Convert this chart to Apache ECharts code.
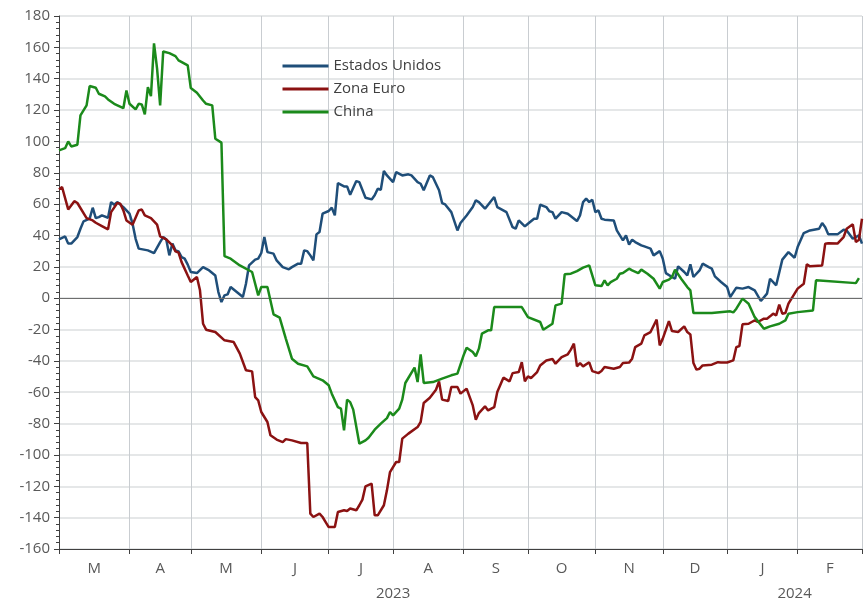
<!DOCTYPE html>
<html>
<head>
<meta charset="utf-8">
<script src="https://cdn.jsdelivr.net/npm/echarts@6/dist/echarts.min.js"></script>
<style>
  html, body { margin: 0; padding: 0; background: #fff; }
  #chart { width: 867px; height: 603px; }
</style>
</head>
<body>
<div id="chart"></div>
<script>
// x positions are business-day indices counted from 1 March 2023
const monthStarts = [0, 23, 43, 66, 88, 109, 132, 153, 175, 197, 218, 241, 262];
const monthLabels = ['M', 'A', 'M', 'J', 'J', 'A', 'S', 'O', 'N', 'D', 'J', 'F'];
const yearLabels = ['2023', '2024'];
const yearStarts = [0, 218, 262];
const yTicks = { min: -160, max: 180, step: 20 };

const seriesNames = ['Estados Unidos', 'Zona Euro', 'China'];

const usPoints = [[0,37.5],[2,39.4],[3,34.8],[4,34.8],[6,39],[7,44.3],[8,49],[10,50.7],[11,57.7],[12,51.1],[13,51.7],[14,52.8],[16,51.3],[17,61.3],[18,59.6],[19,61.3],[21,58.1],[23,53.9],[24,47.5],[25,37.9],[26,31.6],[29,30.5],[31,28.8],[33,35.8],[34,39],[35,37.5],[36,27.3],[37,34.8],[38,30.5],[39,29.8],[40,26.2],[41,25.2],[42,21.4],[43,16.7],[45,16],[47,19.8],[49,17.7],[51,14.5],[52,3.9],[53,-2.5],[54,1.8],[55,2.4],[56,7.1],[58,3.9],[60,0.7],[61,9.2],[62,20.9],[64,24.6],[65,25.2],[66,28.8],[67,39],[68,29.4],[70,28.4],[71,24.1],[73,19.8],[75,18.4],[76,19.8],[78,22],[79,22],[80,30.5],[81,30],[82,27.3],[83,24.1],[84,40.7],[85,42.2],[86,53.9],[88,55.6],[89,57.7],[90,52.8],[91,73.4],[93,71.3],[94,71.3],[95,66],[97,74.7],[98,74],[100,64.1],[102,63],[103,65.6],[104,69.8],[105,69.2],[106,81.1],[107,78.3],[109,74],[110,80.4],[112,78.3],[114,79],[115,78.3],[117,74],[118,73],[119,68.8],[121,78.3],[122,77.2],[124,68.8],[125,60.7],[126,59.8],[128,54.9],[130,43.2],[131,47.9],[133,52.8],[135,58.1],[136,62.4],[137,61.3],[139,57.1],[142,64.5],[143,58.1],[146,54.9],[148,45.3],[149,44.3],[150,49.6],[152,45.8],[153,47.5],[155,50.7],[156,50.7],[157,59.6],[159,58.1],[160,55.4],[161,54.9],[162,50.7],[164,54.9],[166,53.9],[169,49.2],[170,52.8],[171,61.3],[172,63.5],[173,61.3],[174,62.8],[175,54.9],[176,56],[177,50.7],[178,50.1],[181,49.6],[182,43.2],[184,36.9],[185,40],[186,34.1],[187,37.3],[188,35.8],[190,33.7],[191,33],[193,31.6],[194,27.3],[196,30],[197,25.2],[198,16],[200,13.5],[201,12.4],[202,20.3],[204,16.7],[205,14.5],[206,21.6],[207,13.5],[209,17.7],[210,22],[212,19.8],[213,18.8],[214,13.9],[216,10.3],[218,7.1],[219,0.7],[221,6.7],[223,6.1],[225,7.1],[227,5],[229,-1.8],[231,2.9],[232,12.4],[234,8.2],[236,24.6],[238,29.4],[240,25.8],[241,32.6],[243,41.5],[245,43.2],[248,44.3],[249,47.9],[250,45.3],[251,40.7],[254,40.7],[256,43.7],[257,43.2],[259,37.9],[261,40],[262,34.8]];

const euroPoints = [[0,69.4],[1,70.9],[3,56.6],[5,61.9],[6,60.7],[9,51.1],[11,49.6],[12,48.1],[14,46],[16,43.9],[17,54.9],[19,60.7],[20,60.3],[21,56],[22,49.6],[24,46.9],[26,56],[27,56.6],[28,52.8],[30,51.1],[32,46.9],[33,39.4],[35,37.5],[37,33.7],[38,29.8],[39,29],[40,23],[42,14.5],[43,10.3],[45,13.5],[46,5],[47,-16.3],[48,-20.1],[51,-21.6],[54,-26.9],[57,-28],[59,-35.4],[61,-46],[63,-46.7],[64,-63.1],[65,-65.2],[66,-72.6],[68,-79],[69,-87.5],[71,-90.2],[73,-91.8],[74,-89.9],[76,-90.7],[79,-92.4],[81,-92.4],[82,-137.4],[83,-139.6],[85,-137.4],[86,-139.6],[87,-142.8],[88,-146],[90,-146],[91,-136.4],[93,-135.3],[94,-135.8],[95,-134.2],[97,-135.3],[98,-132.1],[99,-128.5],[100,-120],[102,-118.3],[103,-138.5],[104,-138.5],[106,-132.1],[107,-122.6],[108,-110.9],[110,-104.5],[111,-104.5],[112,-89.6],[114,-86.4],[117,-82.2],[118,-79],[119,-66.9],[121,-63.5],[123,-58.4],[124,-53.1],[125,-64.7],[127,-65.6],[128,-56.7],[130,-56.7],[131,-60.9],[133,-57.7],[135,-68.4],[136,-77.5],[137,-73.3],[139,-69],[140,-71.6],[142,-69.5],[143,-59.9],[145,-50.7],[147,-53.1],[148,-47.8],[150,-47.1],[151,-40.8],[152,-53.1],[153,-49.9],[154,-51],[156,-47.1],[157,-42.9],[159,-39.7],[161,-38.8],[162,-41.8],[164,-37.6],[166,-35.8],[167,-32.8],[168,-29],[169,-43.5],[170,-41.4],[171,-43.5],[173,-40.9],[174,-46.5],[176,-47.8],[177,-46.5],[178,-43.9],[181,-45],[183,-43.9],[184,-41.4],[186,-41.1],[187,-38.6],[188,-31.2],[190,-29],[191,-23.7],[193,-21.6],[195,-13.7],[196,-30.1],[197,-25.8],[199,-14.6],[200,-21],[202,-21.6],[204,-18],[205,-21.6],[206,-23.1],[207,-41.4],[208,-45.6],[209,-45],[210,-42.9],[213,-42.4],[215,-40.8],[216,-41],[218,-41],[220,-39.7],[221,-31.2],[222,-30.5],[223,-16.7],[225,-16.3],[226,-15.2],[227,-14.2],[228,-15.2],[230,-13.1],[231,-13.1],[232,-11.6],[233,-9.9],[234,-11],[235,-4.1],[236,-9.9],[237,-9.5],[238,-3.5],[240,2.9],[241,6.1],[243,9.2],[244,21.6],[245,20.3],[249,20.9],[250,34.8],[251,35.1],[254,34.8],[256,39],[257,44.3],[259,47.1],[260,35.8],[261,37.3],[262,50.7]];

const chinaPoints = [[0,94.3],[2,95.7],[3,100],[4,96.8],[6,97.9],[7,116.6],[9,123],[10,135.3],[12,134.2],[13,130.4],[15,128.7],[16,126.8],[18,124],[21,121.2],[22,132.5],[23,124],[25,120.4],[26,124],[27,123.6],[28,117.2],[29,134.6],[30,128.9],[31,162.5],[32,146.4],[33,123],[34,157.4],[36,156.3],[38,154.4],[39,151.7],[42,148.5],[43,134],[45,131],[47,126.1],[48,124],[50,123],[51,101.7],[53,99.2],[54,26.8],[56,25.2],[59,20.9],[63,16.7],[65,1.8],[66,7.1],[68,7.1],[70,-10.3],[72,-12.4],[74,-25.8],[76,-38.6],[78,-41.8],[81,-43.5],[83,-49.9],[86,-52.4],[88,-55.6],[89,-60.9],[91,-69.5],[92,-70.5],[93,-84.3],[94,-64.7],[95,-66.3],[96,-71.1],[98,-92.8],[100,-90.7],[101,-89],[103,-83.9],[105,-80],[107,-76.5],[108,-72.6],[109,-74.7],[111,-70.5],[112,-64.7],[113,-54.1],[116,-44.3],[117,-53.5],[118,-35.8],[119,-54.1],[122,-53.5],[125,-51.3],[128,-49.2],[130,-48.1],[132,-36.5],[133,-31.6],[135,-34.4],[136,-37.1],[137,-32.2],[138,-22.6],[140,-20.5],[141,-20.5],[142,-5.7],[151,-5.7],[153,-12.1],[157,-15.2],[158,-20.1],[161,-16.3],[162,-4.6],[164,-3.5],[165,15.2],[167,15.6],[169,17.3],[171,19.5],[173,20.9],[175,8.2],[177,7.7],[178,11.4],[179,8.2],[180,10.3],[182,12.4],[183,15.6],[184,16],[186,18.8],[187,17.7],[189,16],[190,18.2],[192,15.6],[194,12.4],[196,6.1],[197,10.3],[199,11.8],[200,13.5],[201,18.2],[203,12.4],[205,7.1],[206,5],[207,-9.5],[213,-9.5],[219,-8.4],[220,-9.1],[221,-6.7],[223,-0.3],[225,-3.5],[227,-12.1],[230,-19.5],[232,-18],[235,-16.3],[237,-14.2],[238,-9.9],[241,-8.9],[246,-7.8],[247,11.4],[260,9.6],[261,12.8]];

const colors = ['#1f4e79', '#8b1212', '#1b8a1b'];
const FONT = '"Open Sans", "Noto Sans", sans-serif';
const TEXT = '#595959';

const monthMids = monthLabels.map((_, i) => (monthStarts[i] + monthStarts[i + 1]) / 2);
const yearMids = yearLabels.map((_, i) => (yearStarts[i] + yearStarts[i + 1]) / 2);
const xMin = monthStarts[0];
const xMax = monthStarts[monthStarts.length - 1];

function pick(list, labels) {
  return function (v) {
    const i = list.findIndex(m => Math.abs(m - v) < 0.01);
    return i >= 0 ? labels[i] : '';
  };
}

const chart = echarts.init(document.getElementById('chart'), null, { renderer: 'canvas' });

const lineSeries = [usPoints, euroPoints, chinaPoints].map((pts, i) => ({
  name: seriesNames[i],
  type: 'line',
  data: pts,
  symbol: 'none',
  showSymbol: false,
  lineStyle: { color: colors[i], width: 2.5 },
  itemStyle: { color: colors[i] },
  z: 3 + i,
  animation: false
}));

// horizontal reference line at zero
lineSeries[0].markLine = {
  silent: true,
  symbol: ['none', 'none'],
  label: { show: false },
  lineStyle: { color: '#6e6e6e', width: 1, type: 'solid' },
  data: [{ yAxis: 0 }],
  animation: false
};

chart.setOption({
  animation: false,
  backgroundColor: '#fff',
  textStyle: { fontFamily: FONT },
  grid: {
    left: 59, right: 5, top: 16, bottom: 54,
    outerBoundsMode: 'none'
  },
  legend: {
    orient: 'vertical',
    left: 276,
    top: 53.5,
    itemWidth: 46,
    itemHeight: 14,
    itemGap: 8,
    data: seriesNames,
    itemStyle: { opacity: 0 },
    lineStyle: { width: 3 },
    textStyle: { fontFamily: FONT, fontSize: 15, color: '#404040' }
  },
  xAxis: [
    {
      type: 'value',
      min: xMin,
      max: xMax,
      axisLine: { onZero: false, lineStyle: { color: '#404040', width: 1 } },
      axisTick: { show: true, length: 5, customValues: monthStarts, lineStyle: { color: '#404040' } },
      splitLine: { show: true, lineStyle: { color: '#c9cdd1', width: 1 } },
      axisLabel: {
        customValues: monthMids,
        formatter: pick(monthMids, monthLabels),
        color: TEXT, fontSize: 15, fontFamily: FONT, margin: 12
      }
    },
    {
      type: 'value',
      position: 'bottom',
      offset: 25,
      min: xMin,
      max: xMax,
      axisLine: { show: false },
      axisTick: { show: false },
      splitLine: { show: false },
      axisLabel: {
        customValues: yearMids,
        formatter: pick(yearMids, yearLabels),
        color: TEXT, fontSize: 15, fontFamily: FONT, margin: 12
      }
    }
  ],
  yAxis: {
    type: 'value',
    min: yTicks.min,
    max: yTicks.max,
    interval: yTicks.step,
    axisLine: { show: true, lineStyle: { color: '#404040', width: 1 } },
    axisTick: { show: true, length: 5, lineStyle: { color: '#404040' } },
    minorTick: { show: true, splitNumber: 5, length: 3, lineStyle: { color: '#404040' } },
    splitLine: { show: true, lineStyle: { color: '#dcdfe1', width: 1.5 } },
    axisLabel: { color: TEXT, fontSize: 15, fontFamily: FONT, margin: 9 }
  },
  series: lineSeries
});
</script>
</body>
</html>
